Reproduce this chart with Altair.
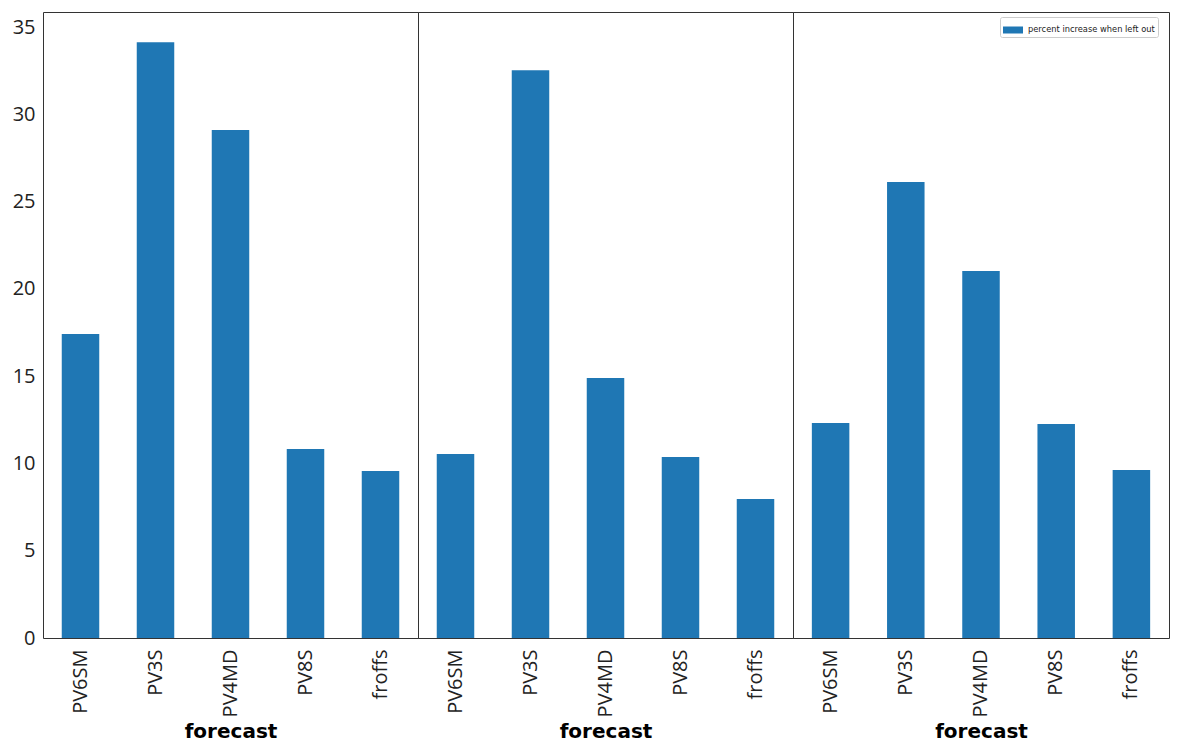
import altair as alt
import pandas as pd

categories = ["PV6SM", "PV3S", "PV4MD", "PV8S", "froffs"]
panel1 = [17.41, 34.13, 29.10, 10.82, 9.56]
panel2 = [10.54, 32.53, 14.89, 10.37, 7.96]
panel3 = [12.31, 26.12, 21.02, 12.26, 9.62]
series_name = "percent increase when left out"
y_ticks = [0, 5, 10, 15, 20, 25, 30, 35]
y_max = 35.86

BLUE = "#1f77b4"
FONT = "DejaVu Sans"
TICK_FONT = "Open Sans"


def make_panel(values, width, show_y):
    df = pd.DataFrame({"forecast": categories, "value": values, "series": series_name})
    y_axis = (
        alt.Axis(domain=False, ticks=False, grid=False, labelFontSize=20,
                 labelPadding=8, labelColor="#222", values=y_ticks,
                 title=None, labelFont=TICK_FONT)
        if show_y else None
    )
    legend = alt.Legend(
        title=None, orient="none", legendX=957, legendY=5,
        labelFontSize=8.3, labelFont=FONT, labelColor="#222",
        symbolType="M-1,-0.35L1,-0.35L1,0.35L-1,0.35Z", symbolSize=400,
        symbolStrokeWidth=0, strokeColor="#cccccc", padding=3,
        cornerRadius=2, fillColor="white", labelOffset=5,
    )
    return (
        alt.Chart(df)
        .mark_bar(size=37.5)
        .encode(
            x=alt.X("forecast:N", sort=categories,
                    scale=alt.Scale(paddingInner=0.5, paddingOuter=0.25),
                    axis=alt.Axis(domain=False, ticks=False, labelAngle=-90,
                                  labelFontSize=20, labelFont=TICK_FONT, labelColor="#222",
                                  labelPadding=11, title="forecast", titleFontSize=20,
                                  titleFont=FONT, titleFontWeight="bold",
                                  titleColor="black", titlePadding=5)),
            y=alt.Y("value:Q", scale=alt.Scale(domain=[0, y_max], nice=False, zero=True),
                    axis=y_axis),
            color=alt.Color("series:N", scale=alt.Scale(range=[BLUE]), legend=legend),
        )
        .properties(width=width, height=626)
    )


chart = (
    alt.hconcat(
        make_panel(panel1, 375, True),
        make_panel(panel2, 375, False),
        make_panel(panel3, 376, False),
        spacing=0,
        bounds="flush",
    )
    .properties(
        padding={"left": 11, "top": 11, "right": 10, "bottom": 5},
        background="white",
    )
    .configure_view(stroke="#333333", strokeWidth=1)
)

chart.save("out.html", embed_options={"renderer": "svg", "actions": False})
